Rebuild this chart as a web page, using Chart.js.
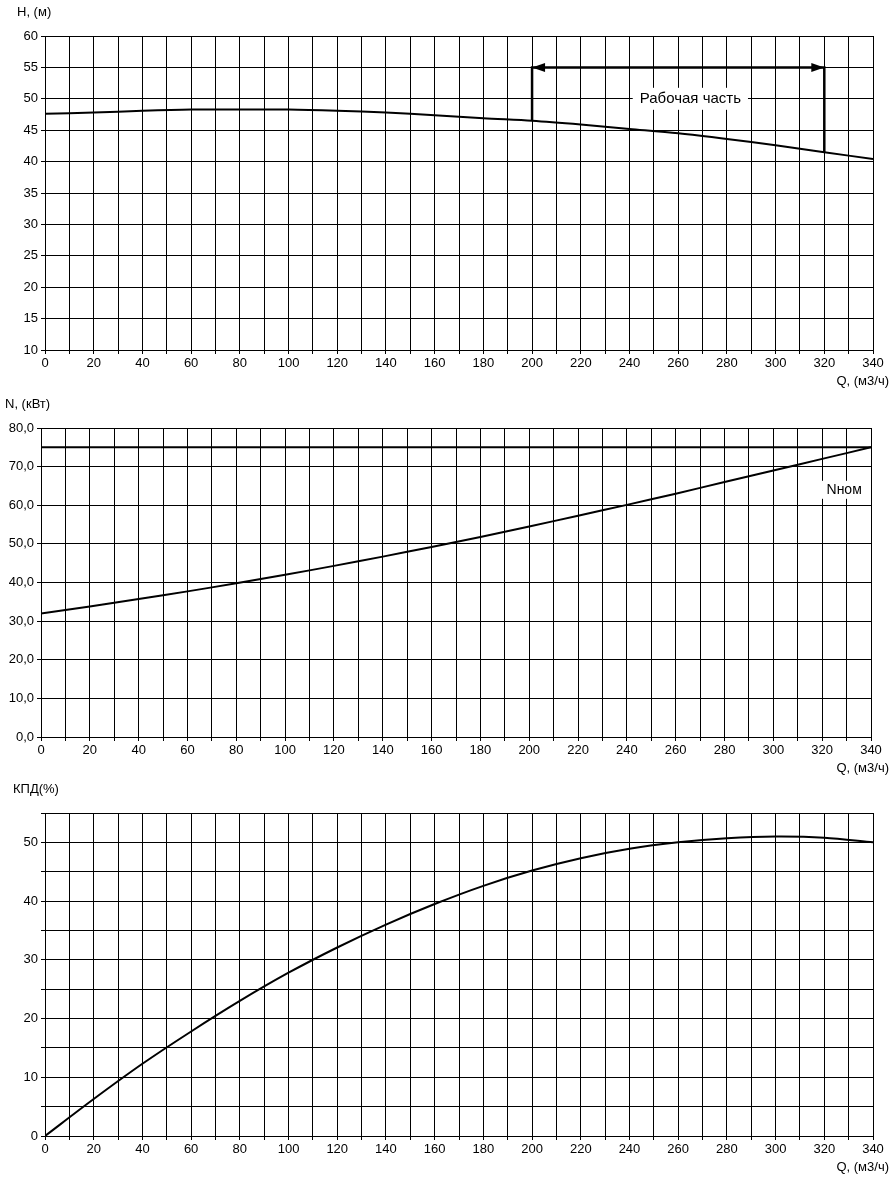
<!DOCTYPE html>
<html><head><meta charset="utf-8">
<script src="https://cdn.jsdelivr.net/npm/chart.js@4"></script>
<style>
body{margin:0;background:#fff;width:894px;height:1188px;position:relative;overflow:hidden}
.c{position:absolute;left:0;width:894px}
</style></head><body>
<div class="c" style="top:0;height:395px"><canvas id="chH"></canvas></div>
<div class="c" style="top:395px;height:385px"><canvas id="chN"></canvas></div>
<div class="c" style="top:780px;height:408px"><canvas id="chK"></canvas></div>
<script>
// подача, м3/ч
var flowQ = [0,20,40,60,80,100,120,140,160,180,200,220,240,260,280,300,320,340];
// напор, м
var headH = [47.6,47.8,48.1,48.3,48.3,48.3,48.1,47.8,47.4,46.9,46.5,45.9,45.2,44.5,43.6,42.6,41.5,40.4];
// мощность, кВт
var powerN = [32,33.8,35.7,37.7,39.8,42,44.3,46.7,49.2,51.8,54.5,57.3,60.1,63,66,69,72,75];
var nNom = 75;
// КПД, %
var effK = [0,6.3,12.3,17.8,23,27.8,32.1,36,39.5,42.6,45.2,47.3,48.9,50,50.7,51,50.8,50];
// рабочая часть
var workQ = [200,320];
var workTop = 55;

Chart.defaults.font.family = "'Liberation Sans', Arial, sans-serif";
Chart.defaults.font.size = 13;
Chart.defaults.color = '#000';

function pts(ys){ return flowQ.map(function(q,i){ return {x:q,y:ys[i]}; }); }

function opts(cfg){
  return {
    responsive:true, maintainAspectRatio:false, animation:false,
    layout:{padding:{top:cfg.top,right:cfg.right,left:0,bottom:0}},
    plugins:{legend:{display:false},tooltip:{enabled:false}},
    elements:{point:{radius:0},line:{tension:0.3,borderWidth:2,borderColor:'#000'}},
    scales:{
      x:{type:'linear',min:0,max:340,
        ticks:{stepSize:10,autoSkip:false,maxRotation:0,padding:2,callback:function(v){return v%20===0?v:'';}},
        grid:{color:'#000',lineWidth:1,tickLength:4},border:{color:'#000'},
        afterFit:function(s){s.height=cfg.xh;}},
      y:{min:cfg.ymin,max:cfg.ymax,
        ticks:{stepSize:cfg.step,padding:3,callback:cfg.fmt},
        grid:{color:'#000',lineWidth:1,tickLength:4},border:{color:'#000'},
        afterFit:function(s){s.width=cfg.yw;}}
    }
  };
}

function labels(yTitle, yx){
  return {id:'lbl',afterDraw:function(c){
    var g=c.ctx, a=c.chartArea;
    g.save(); g.fillStyle='#000'; g.font="13px 'Liberation Sans', Arial, sans-serif";
    g.textAlign='left'; g.textBaseline='middle';
    g.fillText(yTitle, yx, a.top-24);
    g.textAlign='right';
    g.fillText('Q, (м3/ч)', 889, a.bottom+31);
    g.restore();
  }};
}

new Chart(document.getElementById('chH'),{
  type:'line',
  data:{datasets:[
    {data:pts(headH)},
    {data:[{x:workQ[0],y:headH[10]},{x:workQ[0],y:workTop},{x:workQ[1],y:workTop},{x:workQ[1],y:headH[16]}],tension:0,borderWidth:2.5}
  ]},
  options:opts({top:36,right:21,xh:45,yw:45,ymin:10,ymax:60,step:5}),
  plugins:[labels('H, (м)',17),{id:'work',afterDatasetsDraw:function(c){
    var g=c.ctx, xs=c.scales.x, ys=c.scales.y;
    var x1=xs.getPixelForValue(workQ[0]), x2=xs.getPixelForValue(workQ[1]), y=ys.getPixelForValue(workTop);
    g.save(); g.fillStyle='#000';
    g.beginPath(); g.moveTo(x1,y); g.lineTo(x1+13,y-4.5); g.lineTo(x1+13,y+4.5); g.fill();
    g.beginPath(); g.moveTo(x2,y); g.lineTo(x2-13,y-4.5); g.lineTo(x2-13,y+4.5); g.fill();
    var tx=xs.getPixelForValue(265), ty=ys.getPixelForValue(50);
    g.font="15px 'Liberation Sans', Arial, sans-serif";
    var w=g.measureText('Рабочая часть').width;
    g.fillStyle='#fff'; g.fillRect(tx-w/2-7,ty-11,w+14,22);
    g.fillStyle='#000'; g.textAlign='center'; g.textBaseline='middle';
    g.fillText('Рабочая часть',tx,ty);
    g.restore();
  }}]
});

new Chart(document.getElementById('chN'),{
  type:'line',
  data:{datasets:[
    {data:pts(powerN)},
    {data:[{x:0,y:nNom},{x:340,y:nNom}],tension:0}
  ]},
  options:opts({top:33,right:23,xh:43,yw:41,ymin:0,ymax:80,step:10,fmt:function(v){return v.toFixed(1).replace('.',',');}}),
  plugins:[labels('N, (кВт)',5),{id:'nom',afterDraw:function(c){
    var g=c.ctx, xs=c.scales.x, ys=c.scales.y;
    g.save(); var x=xs.getPixelForValue(329), y=ys.getPixelForValue(64);
    g.font="14px 'Liberation Sans', Arial, sans-serif";
    g.fillStyle='#fff'; g.fillRect(x-25,y-9,50,18);
    g.fillStyle='#000'; g.textAlign='center'; g.textBaseline='middle';
    g.fillText('Nном',x,y); g.restore();
  }}]
});

new Chart(document.getElementById('chK'),{
  type:'line',
  data:{datasets:[{data:pts(effK)}]},
  options:opts({top:33,right:21,xh:52,yw:45,ymin:0,ymax:55,step:5,fmt:function(v){return v%10===0?v:'';}}),
  plugins:[labels('КПД(%)',13)]
});
</script>
</body></html>
